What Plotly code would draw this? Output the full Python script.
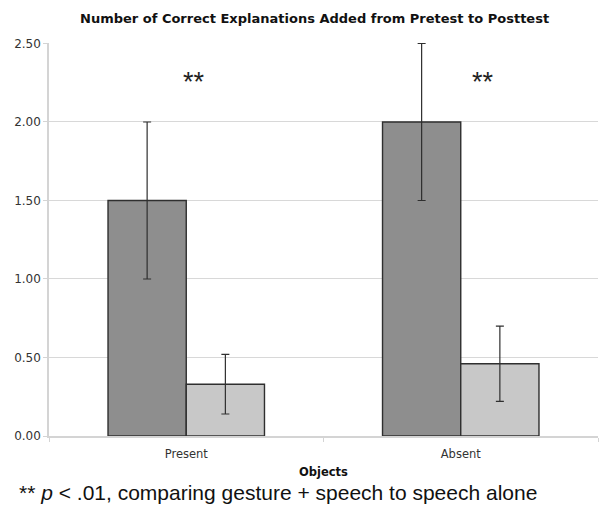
import plotly.graph_objects as go

# Categories and series
objects = ["Present", "Absent"]
gesture_speech = [1.50, 2.00]
gesture_speech_err = [0.50, 0.50]
speech_alone = [0.33, 0.46]
speech_alone_err = [0.19, 0.24]

# Significance markers (category index positions, y value)
sig_labels = ["**", "**"]
sig_x = [0.03, 1.08]
sig_y = [2.255, 2.255]

y_ticks = [0.0, 0.5, 1.0, 1.5, 2.0, 2.5]

VERDANA = "Verdana, DejaVu Sans, sans-serif"
ARIAL = "Arial, Liberation Sans, sans-serif"
EDGE = "#2f2f2f"

fig = go.Figure()
fig.add_trace(go.Bar(
    name="Gesture + speech", x=objects, y=gesture_speech,
    marker=dict(color="#8e8e8e", line=dict(color=EDGE, width=1.4)),
    error_y=dict(type="data", array=gesture_speech_err, color=EDGE, thickness=1.2, width=4),
))
fig.add_trace(go.Bar(
    name="Speech alone", x=objects, y=speech_alone,
    marker=dict(color="#c8c8c8", line=dict(color=EDGE, width=1.4)),
    error_y=dict(type="data", array=speech_alone_err, color=EDGE, thickness=1.2, width=4),
))

for lbl, sx, sy in zip(sig_labels, sig_x, sig_y):
    fig.add_annotation(x=sx, y=sy, xref="x", yref="y", text=lbl, showarrow=False,
                       font=dict(family=ARIAL, size=27, color="#222"))

# Footnote below the axis title
fig.add_annotation(
    x=-0.058, y=-0.145, xref="paper", yref="paper", xanchor="left", yanchor="middle",
    text="** <i>p</i> &lt; .01, comparing gesture + speech to speech alone",
    showarrow=False, font=dict(family=ARIAL, size=21, color="#111"),
)

fig.update_layout(
    width=605, height=508,
    margin=dict(l=49, r=7, t=43, b=72),
    paper_bgcolor="white", plot_bgcolor="white",
    barmode="group", bargap=0.43, bargroupgap=0,
    showlegend=False,
    title=dict(text="<b>Number of Correct Explanations Added from Pretest to Posttest</b>",
               x=0.52, xanchor="center", y=0.963, yanchor="middle",
               font=dict(family=VERDANA, size=13, color="#111")),
    font=dict(family=VERDANA, size=11, color="#333"),
)
fig.update_xaxes(
    title=dict(text="<b>Objects</b>", font=dict(family=VERDANA, size=11.5, color="#111"), standoff=8),
    showline=True, linecolor="#d4d4d4", linewidth=1.5,
    ticks="outside", tickson="boundaries", ticklen=4, tickcolor="#d4d4d4",
    ticklabelstandoff=6,
    tickfont=dict(family=VERDANA, size=11.5, color="#333"),
    showgrid=False,
)
fig.update_yaxes(
    range=[0, 2.503], tickvals=y_ticks, tickformat=".2f",
    showgrid=True, gridcolor="#d8d8d8", gridwidth=1.2,
    showline=True, linecolor="#d4d4d4", linewidth=1.5,
    ticks="outside", ticklen=4, tickcolor="#d4d4d4",
    tickfont=dict(family=VERDANA, size=12, color="#333"),
    zeroline=False,
)

fig.write_html("out.html")
